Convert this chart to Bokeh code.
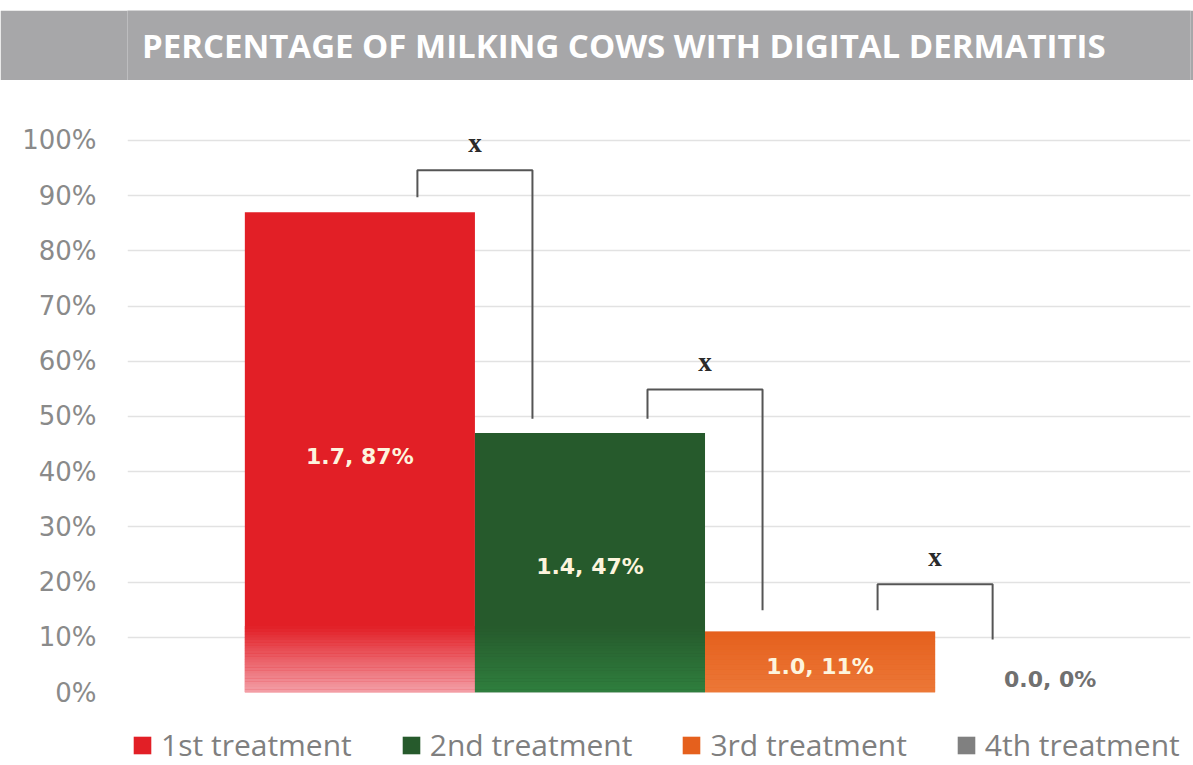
from bokeh.plotting import figure
from bokeh.models import (Range1d, FixedTicker, PrintfTickFormatter, Legend,
                          LegendItem, Label, ColumnDataSource, Spacer)
from bokeh.layouts import column
from bokeh.core.properties import value
from bokeh.embed import file_html
from bokeh.resources import INLINE

# ---------------- data ----------------
title_text = "PERCENTAGE OF MILKING COWS WITH DIGITAL DERMATITIS"
treatments = ["1st treatment", "2nd treatment", "3rd treatment", "4th treatment"]
scores = [1.7, 1.4, 1.0, 0.0]
percent = [87, 47, 11, 0]
bar_colors = ["#e21f26", "#265a2c", "#e5601d", "#808080"]
bar_bottom_colors = ["#f3a0a8", "#2f7f3e", "#ec7838", "#808080"]
y_ticks = [0, 10, 20, 30, 40, 50, 60, 70, 80, 90, 100]

# significance brackets between neighbouring treatments
bracket_pairs = [(0, 1), (1, 2), (2, 3)]
bracket_top = [94.6, 54.9, 19.6]
bracket_left_end = [89.7, 49.6, 14.9]
bracket_right_end = [49.6, 14.9, 9.6]
bracket_mark = ["x", "x", "x"]

W = 1193
X0, X1 = -1.01, 3.61
BORDER_L, BORDER_R = 127, 3
BANNER = "#a7a7a9"


def bare(fig):
    fig.axis.visible = False
    fig.grid.visible = False
    fig.outline_line_color = None


# ---------------- title banner ----------------
banner = figure(width=W, height=70, x_range=Range1d(X0, X1), y_range=Range1d(0, 70),
                toolbar_location=None, output_backend="svg",
                min_border_left=BORDER_L, min_border_right=BORDER_R,
                min_border_top=0, min_border_bottom=0,
                background_fill_color=BANNER, border_fill_color=BANNER)
bare(banner)
banner.add_layout(Label(x=1.147, y=35, text=title_text, text_align="center",
                        text_baseline="middle", text_color="white",
                        text_font="Open Sans", text_font_style="bold",
                        text_font_size="33px"))

# ---------------- chart ----------------
p = figure(width=W, height=645, x_range=Range1d(X0, X1), y_range=Range1d(0, 101.8),
           toolbar_location=None, output_backend="svg",
           min_border_left=BORDER_L, min_border_right=BORDER_R,
           min_border_top=50, min_border_bottom=33,
           background_fill_color="white", border_fill_color="white")
p.outline_line_color = None
p.xaxis.visible = False
p.xgrid.grid_line_color = None
p.ygrid.grid_line_color = "#e2e2e2"
p.ygrid.grid_line_width = 1.5
p.yaxis.ticker = FixedTicker(ticks=y_ticks)
p.yaxis.formatter = PrintfTickFormatter(format="%d%%")
p.yaxis.axis_line_color = None
p.yaxis.major_tick_line_color = None
p.yaxis.minor_tick_line_color = None
p.yaxis.major_tick_out = 0
p.yaxis.major_label_standoff = 31
p.yaxis.major_label_text_font = "DejaVu Sans"
p.yaxis.major_label_text_font_size = "26px"
p.yaxis.major_label_text_color = "#8a8a8a"

idx = list(range(len(treatments)))
src = ColumnDataSource(dict(x=idx, top=percent, color=bar_colors, label=treatments))
bars = p.vbar(x="x", top="top", width=1.0, fill_color="color", line_color=None, source=src)


# bottom fade of each bar (drawn as thin strips)
def _mix(c1, c2, t):
    a = [int(c1[i:i + 2], 16) for i in (1, 3, 5)]
    b = [int(c2[i:i + 2], 16) for i in (1, 3, 5)]
    return "#%02x%02x%02x" % tuple(round(a[k] + (b[k] - a[k]) * t) for k in range(3))


fade = 12.0
n_strips = 24
sl, sr, sb, st, sc = [], [], [], [], []
for i, v in enumerate(percent):
    h = min(fade, v)
    if h <= 0:
        continue
    for k in range(n_strips):
        sl.append(i - 0.5)
        sr.append(i + 0.5)
        sb.append(h * k / n_strips)
        st.append(h * (k + 1) / n_strips + 0.05)
        sc.append(_mix(bar_bottom_colors[i], bar_colors[i], (k + 0.5) / n_strips))
p.quad(left=sl, right=sr, bottom=sb, top=st, fill_color=sc, line_color=None)

# value labels
labels = ["%.1f, %d%%" % (s, v) for s, v in zip(scores, percent)]
in_x = [i for i, v in enumerate(percent) if v > 0]
p.text(x=in_x, y=[percent[i] / 2 for i in in_x], text=[labels[i] for i in in_x],
       text_align="center", text_baseline="middle", y_offset=4,
       text_color="#fdf4dd", text_font=value("DejaVu Sans"), text_font_style="bold",
       text_font_size="22px")
out_x = [i for i, v in enumerate(percent) if v == 0]
p.text(x=out_x, y=[percent[i] for i in out_x], text=[labels[i] for i in out_x],
       text_align="center", text_baseline="bottom", y_offset=-1,
       text_color="#707070", text_font=value("DejaVu Sans"), text_font_style="bold",
       text_font_size="22px")

# significance brackets
off = 0.25
xs, ys, mx, my = [], [], [], []
for (a, b), top, le, re in zip(bracket_pairs, bracket_top, bracket_left_end, bracket_right_end):
    xs.append([a + off, a + off, b - off, b - off])
    ys.append([le, top, top, re])
    mx.append((a + b) / 2)
    my.append(top + 5)
p.multi_line(xs=xs, ys=ys, line_color="#555555", line_width=2)
p.text(x=mx, y=my, text=bracket_mark, text_align="center", text_baseline="middle",
       text_color="#2a2a2a", text_font=value("Liberation Serif"), text_font_style="bold",
       text_font_size="27px")

# ---------------- legend strip ----------------
leg = figure(width=W, height=40, x_range=Range1d(X0, X1), y_range=Range1d(-20, -10),
             toolbar_location=None, output_backend="svg",
             min_border_left=BORDER_L, min_border_right=BORDER_R,
             min_border_top=0, min_border_bottom=0,
             background_fill_color="white", border_fill_color="white")
bare(leg)
leg_bars = leg.vbar(x="x", top="top", width=1.0, fill_color="color", line_color=None, source=src)
leg_bars.visible = False
items = [LegendItem(label=t, renderers=[leg_bars], index=i) for i, t in enumerate(treatments)]
legend = Legend(items=items, orientation="horizontal", location=(4, 0),
                label_text_font="Open Sans", label_text_font_size="30px",
                label_text_color="#7f7f7f", glyph_width=22, glyph_height=22,
                label_standoff=8, spacing=48, padding=0, margin=0,
                border_line_color=None, background_fill_alpha=0)
leg.add_layout(legend, "center")

layout = column(Spacer(width=W, height=10), banner, p, leg, spacing=0)
open("out.html", "w").write(file_html(layout, INLINE))
